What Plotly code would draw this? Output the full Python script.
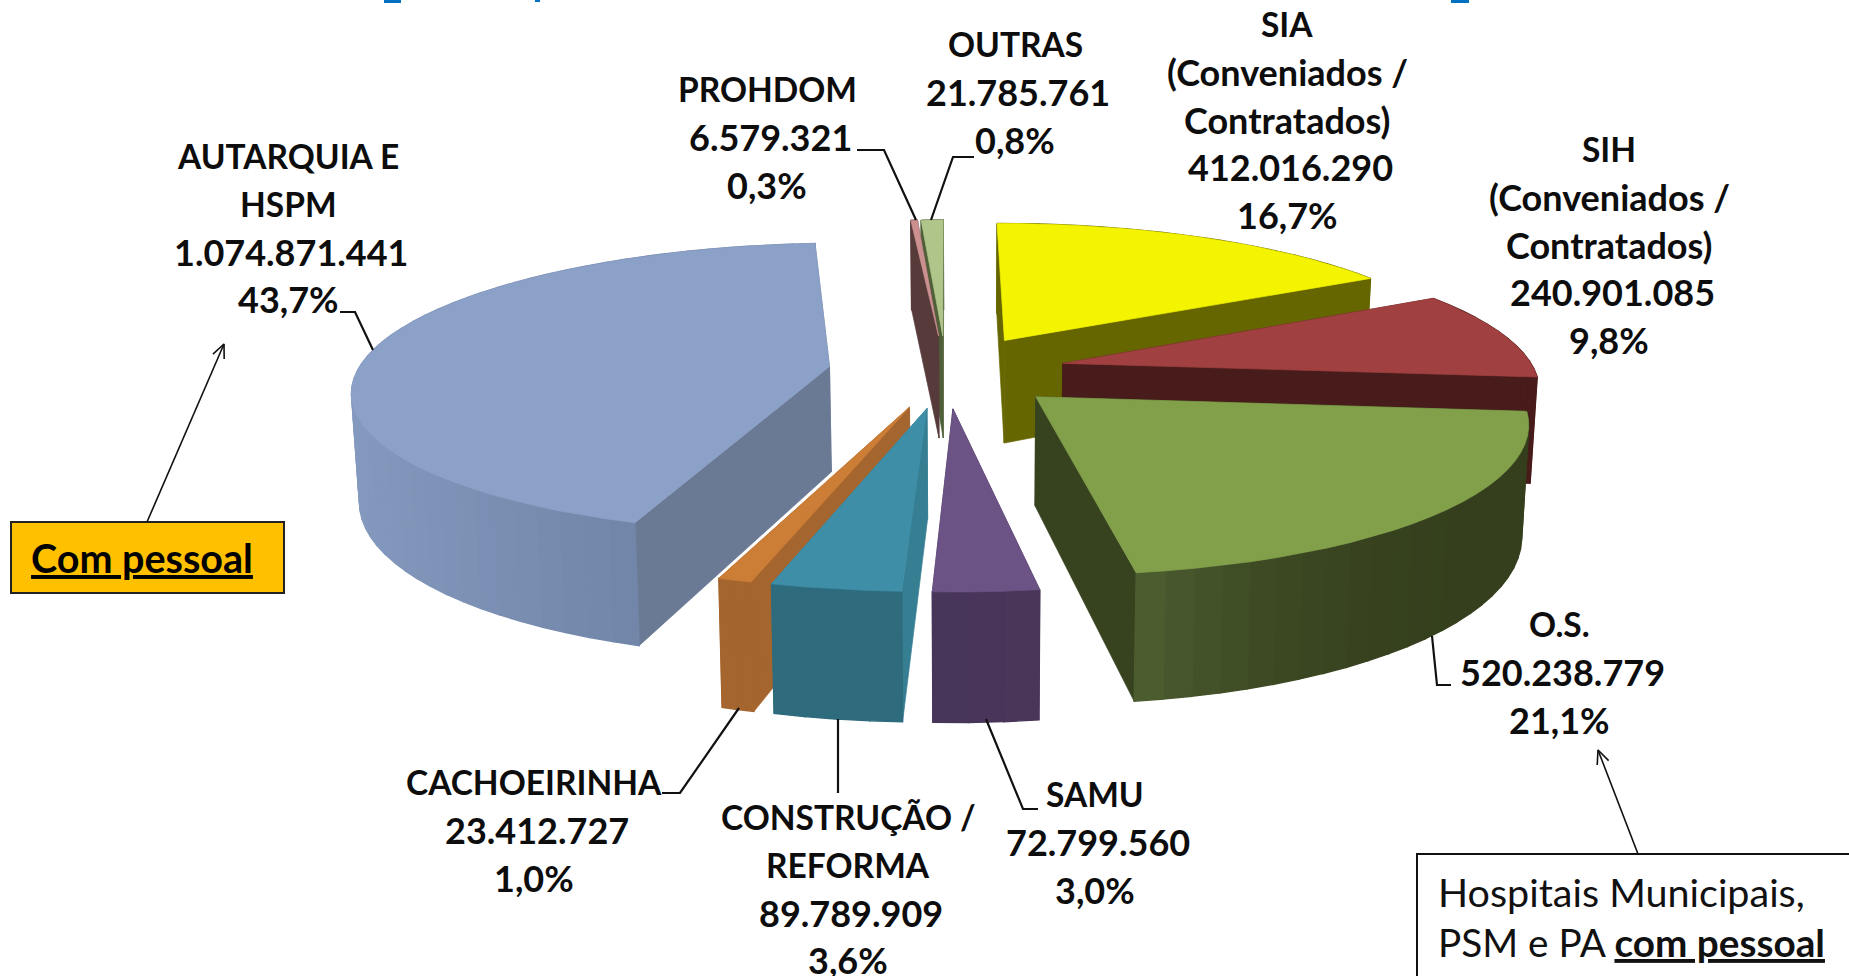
import math
import plotly.graph_objects as go

# ---------- data ----------
names = ["SIA", "SIH", "O.S.", "SAMU", "CONSTRUÇÃO / REFORMA", "CACHOEIRINHA",
         "AUTARQUIA E HSPM", "PROHDOM", "OUTRAS"]
values = [412016290, 240901085, 520238779, 72799560, 89789909, 23412727,
          1074871441, 6579321, 21785761]
percent_labels = ["16,7%", "9,8%", "21,1%", "3,0%", "3,6%", "1,0%", "43,7%", "0,3%", "0,8%"]
name_lines = [["SIA", "(Conveniados /", "Contratados)"],
              ["SIH", "(Conveniados /", "Contratados)"],
              ["O.S."], ["SAMU"], ["CONSTRUÇÃO /", "REFORMA"], ["CACHOEIRINHA"],
              ["AUTARQUIA E", "HSPM"], ["PROHDOM"], ["OUTRAS"]]

# ---------- styles ----------
top_colors = ["#F4F400", "#A04040", "#82A04A", "#6B5385", "#3E8EA7", "#CC7D36",
              "#8CA1C7", "#CC9090", "#AFC58A"]
face_colors = ["#666600", "#481C1A", "#37431F", "#4A3659", "#367E92", "#A5652E",
               "#6A7A94", "#573B3B", "#4F5F38"]
wall_start = ["#666600", "#481C1A", "#353F1D", "#4A3659", "#2E6B7D", "#A5652E",
              "#7186A8", "#573B3B", "#4F5F38"]
wall_end = ["#666600", "#481C1A", "#506233", "#47345A", "#2E6B7D", "#A5652E",
            "#8499BE", "#573B3B", "#4F5F38"]
pull = [0.255, 0.255, 0.255, 0.255, 0.255, 0.255, 0.25, 0.255, 0.255]
draw_order = [8, 7, 0, 1, 2, 6, 5, 4, 3]
label_cx = [1287, 1609, 1559, 1095, 848, 534, 288, 767, 1015]
label_y0 = [24, 149, 624, 794, 817, 782, 156, 89, 44]
line_pitch = 47.8

# ---------- projection of the pie ----------
W, H = 1849, 976
CX, Y0, SX, SY, K, DEPTH = 946, 371, 472, 143, 0.15, 106
VX, VC = 975, 0.0127


def project(x, y, bottom=False):
    w = 1 + K * y
    sx = CX + SX * x / w
    sy = Y0 - SY * y / w
    if bottom:
        sx += (VX - sx) * VC
        sy += DEPTH / w
    return sx, sy


def hex_mix(a, b, t):
    ca = [int(a[i:i + 2], 16) for i in (1, 3, 5)]
    cb = [int(b[i:i + 2], 16) for i in (1, 3, 5)]
    return "rgb(%d,%d,%d)" % tuple(round(p + (q - p) * t) for p, q in zip(ca, cb))


fig = go.Figure()


def poly(points, color, lw=0.7):
    fig.add_trace(go.Scatter(
        x=[p[0] for p in points] + [points[0][0]],
        y=[p[1] for p in points] + [points[0][1]],
        mode="lines", fill="toself", fillcolor=color,
        line=dict(color=color, width=lw), hoverinfo="skip", showlegend=False))


def stroke(points, color="#111111", width=2.2):
    fig.add_trace(go.Scatter(
        x=[p[0] for p in points], y=[p[1] for p in points], mode="lines",
        line=dict(color=color, width=width), hoverinfo="skip", showlegend=False))


total = sum(values)
starts, acc = [], 0
for v in values:
    starts.append(acc / total * 2 * math.pi)
    acc += v

for i in draw_order:
    a0 = starts[i]
    a1 = a0 + values[i] / total * 2 * math.pi
    mid = (a0 + a1) / 2
    ox, oy = pull[i] * math.sin(mid), pull[i] * math.cos(mid)
    n = max(2, int((a1 - a0) / math.radians(3)))
    angs = [a0 + (a1 - a0) * j / n for j in range(n + 1)]
    rim = [(ox + math.sin(t), oy + math.cos(t)) for t in angs]
    rim_x = [project(*p)[0] for p in rim]

    def shade(j):
        # shading runs evenly across the screen width of the wedge's wall
        t = abs(rim_x[j] - rim_x[0]) / max(1, max(abs(v - rim_x[0]) for v in rim_x))
        if i == 2:
            t = t ** 2.5
        return hex_mix(wall_start[i], wall_end[i], t)

    def wall(j):
        quad = [project(*rim[j]), project(*rim[j + 1]),
                project(*rim[j + 1], True), project(*rim[j], True)]
        poly(quad, shade(j), 1.4)

    front = [j for j in range(n) if math.cos((angs[j] + angs[j + 1]) / 2) < 0.1]
    for j in range(n):
        if j not in front:
            wall(j)
    for p in (rim[0], rim[-1]):
        poly([project(ox, oy), project(*p), project(*p, True), project(ox, oy, True)],
             face_colors[i])
    for j in front:
        wall(j)
    poly([project(ox, oy)] + [project(*p) for p in rim], top_colors[i])

# ---------- leader lines ----------
leaders = [
    [(340, 312), (355, 312), (373, 350)],
    [(857, 150), (884, 150), (916, 220)],
    [(974, 157), (953, 157), (931, 220)],
    [(1432, 636), (1437, 685), (1451, 685)],
    [(986, 719), (1023, 809), (1038, 809)],
    [(838, 719), (838, 793)],
    [(739, 708), (680, 793), (662, 793)],
]
for pts in leaders:
    stroke(pts)


def arrow(p, q, head=15):
    ang = math.atan2(q[1] - p[1], q[0] - p[0])
    stroke([p, q], "#111111", 1.6)
    stroke([(q[0] - head * math.cos(ang - 0.42), q[1] - head * math.sin(ang - 0.42)), q,
            (q[0] - head * math.cos(ang + 0.42), q[1] - head * math.sin(ang + 0.42))],
           "#111111", 1.6)


arrow((147, 522), (224, 344))
arrow((1638, 854), (1598, 750))

# ---------- text ----------
annotations = []


def text(x, y, s, size=36, anchor="center", color="#0D0D0D"):
    annotations.append(dict(x=x, y=y, xref="x", yref="y", text=s, showarrow=False,
                            xanchor=anchor, yanchor="middle",
                            font=dict(family="Lato", size=size, color=color)))


for i in range(len(values)):
    value_txt = f"{values[i]:,}".replace(",", ".")
    y = label_y0[i]
    for line in name_lines[i]:
        text(label_cx[i], y, f"<b>{line}</b>", size=33.5 if line.upper() == line else 36)
        y += line_pitch
    text(label_cx[i] + 3, y, f"<b>{value_txt}</b>")
    y += line_pitch
    text(label_cx[i], y, f"<b>{percent_labels[i]}</b>")

text(142, 557, "<b><u>Com pessoal</u></b>", size=39.5, color="#000000")
text(1436, 891, "Hospitais Municipais,", size=39.5, anchor="left", color="#111111")
text(1436, 942, "PSM e PA <b><u>com pessoal</u></b>", size=38.7, anchor="left", color="#111111")

# ---------- boxes and the cropped title marks ----------
shapes = [
    dict(type="rect", xref="x", yref="y", x0=11, y0=522, x1=284, y1=593,
         fillcolor="#FFC000", line=dict(color="#222222", width=2), layer="below"),
    dict(type="rect", xref="x", yref="y", x0=1417, y0=854, x1=1870, y1=1000,
         fillcolor="#FFFFFF", line=dict(color="#111111", width=2), layer="below"),
    dict(type="rect", xref="x", yref="y", x0=384, y0=-2, x1=401, y1=3,
         fillcolor="#0070C0", line=dict(width=0)),
    dict(type="rect", xref="x", yref="y", x0=1451, y0=-2, x1=1469, y1=3,
         fillcolor="#0070C0", line=dict(width=0)),
    dict(type="rect", xref="x", yref="y", x0=535, y0=-2, x1=540, y1=2,
         fillcolor="#0070C0", line=dict(width=0)),
]

fig.update_layout(
    width=W, height=H, margin=dict(l=0, r=0, t=0, b=0),
    paper_bgcolor="white", plot_bgcolor="white", showlegend=False,
    xaxis=dict(range=[0, W], visible=False, fixedrange=True),
    yaxis=dict(range=[H, 0], visible=False, fixedrange=True),
    annotations=annotations, shapes=shapes,
)
fig.write_html("out.html", config={"displayModeBar": False},
               post_script="document.body.style.margin='0';document.body.style.overflow='hidden';")
